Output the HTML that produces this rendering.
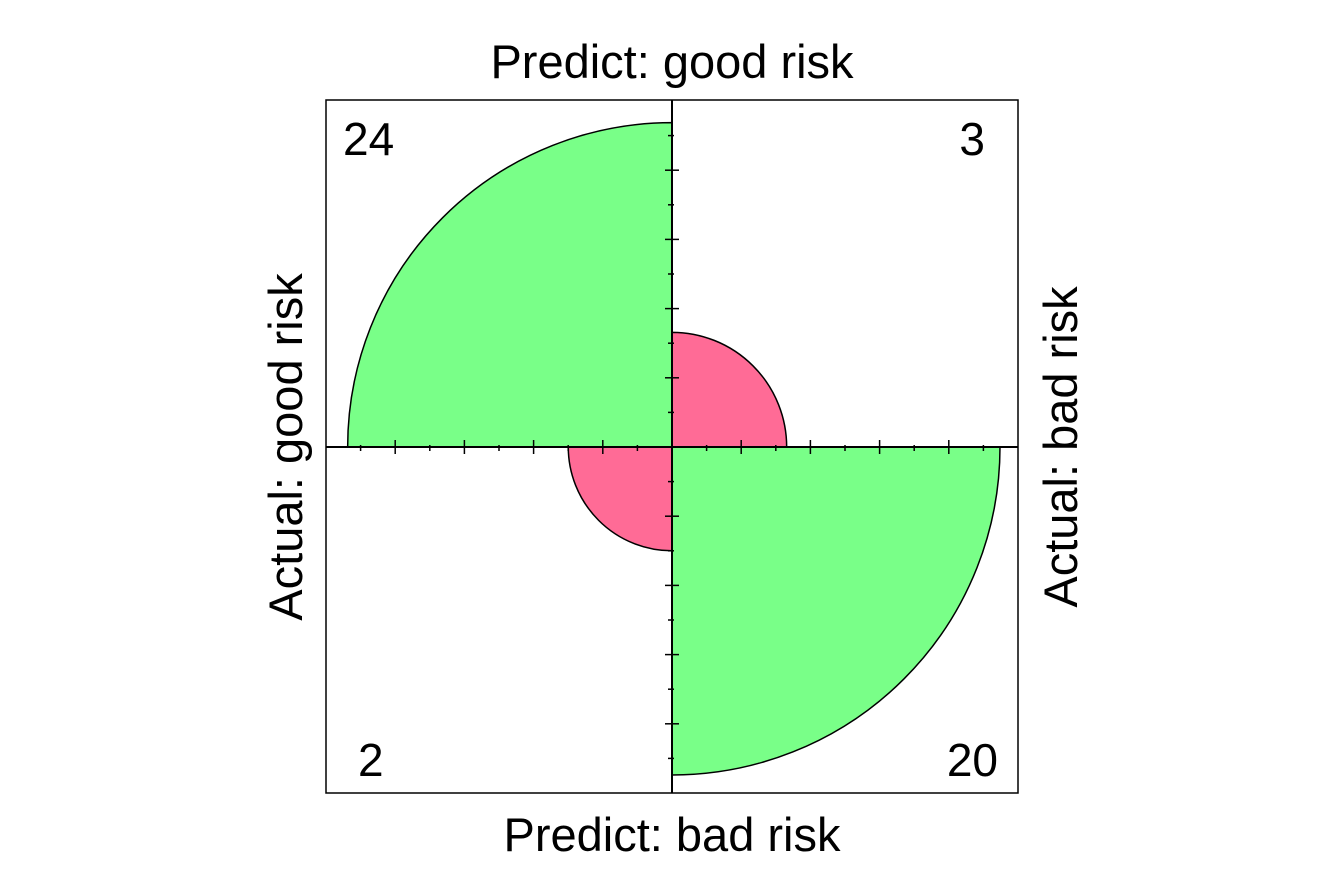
<!DOCTYPE html>
<html><head><meta charset="utf-8"><style>
html,body{margin:0;padding:0;background:#fff;}
svg{display:block;font-family:"Liberation Sans",Arial,sans-serif;}
</style></head><body>
<svg id="chart" width="1344" height="895" viewBox="0 0 1344 895">
<rect x="0" y="0" width="1344" height="895" fill="#fff"/>
<g id="quads"></g>
<g id="axes"></g>
<rect x="326" y="100" width="692" height="693" fill="none" stroke="#000" stroke-width="1.5"/>
<text x="672" y="78" font-size="47" text-anchor="middle">Predict: good risk</text>
<text x="672" y="851" font-size="47" text-anchor="middle">Predict: bad risk</text>
<text transform="translate(302,447) rotate(-90)" font-size="47" text-anchor="middle">Actual: good risk</text>
<text transform="translate(1077,447) rotate(-90)" font-size="47" text-anchor="middle">Actual: bad risk</text>
<g id="counts"></g>
</svg>
<script>
// data: cells in order [top-left, top-right, bottom-left, bottom-right]
const cellLabels = ["good-good", "good-bad", "bad-good", "bad-bad"];
const counts = [24, 3, 2, 20];
const colors = ["#79ff88", "#ff6b96", "#ff6b96", "#79ff88"];

const NS = "http://www.w3.org/2000/svg";
const cx = 672, cy = 447, R = 328;
// standardize by rows (margin = 1)
const rowSums = [counts[0] + counts[1], counts[2] + counts[3]];
const props = counts.map((c, i) => c / rowSums[i < 2 ? 0 : 1]);
const maxP = Math.max(...props);
function rScale(p) { return R * Math.sqrt(p / maxP); }
const dirs = [[-1, -1], [1, -1], [-1, 1], [1, 1]];
const qg = document.getElementById("quads");
props.forEach((p, i) => {
  const r = rScale(p);
  const [dx, dy] = dirs[i];
  const x1 = cx + dx * r, y1 = cy, x2 = cx, y2 = cy + dy * r;
  const sweep = (dx * dy > 0) ? 1 : 0;
  const path = document.createElementNS(NS, "path");
  path.setAttribute("d", `M${cx},${cy} L${x1},${y1} A${r},${r} 0 0 ${sweep} ${x2},${y2} Z`);
  path.setAttribute("fill", colors[i]);
  path.setAttribute("stroke", "#000");
  path.setAttribute("stroke-width", "1.5");
  
  
  qg.appendChild(path);
});
const ag = document.getElementById("axes");
function line(x1, y1, x2, y2, w, name) {
  const l = document.createElementNS(NS, "line");
  l.setAttribute("x1", x1); l.setAttribute("y1", y1);
  l.setAttribute("x2", x2); l.setAttribute("y2", y2);
  l.setAttribute("stroke", "#000"); l.setAttribute("stroke-width", w);
  
  
  ag.appendChild(l);
}
line(326, cy, 1018, cy, 2, "horizontal-axis");
line(cx, 100, cx, 793, 2, "vertical-axis");
const step = 346 / 10;
for (let k = 1; k <= 9; k++) {
  const major = k % 2 === 0;
  for (const s of [-1, 1]) {
    const x = cx + s * k * step, y = cy + s * k * step;
    line(x, cy - (major ? 7 : 2), x, cy + (major ? 7 : 4), 1.5, "x-tick");
    line(cx - (major ? 7 : 4), y, cx + (major ? 7 : 2), y, 1.5, "y-tick");
  }
}
const cg = document.getElementById("counts");
const pos = [[343, 155, "start"], [985, 155, "end"], [358, 776, "start"], [998, 776, "end"]];
counts.forEach((c, i) => {
  const t = document.createElementNS(NS, "text");
  t.setAttribute("x", pos[i][0]); t.setAttribute("y", pos[i][1]);
  t.setAttribute("text-anchor", pos[i][2]);
  t.setAttribute("font-size", "46");
  t.textContent = c;
  
  
  cg.appendChild(t);
});
</script>
</body></html>
